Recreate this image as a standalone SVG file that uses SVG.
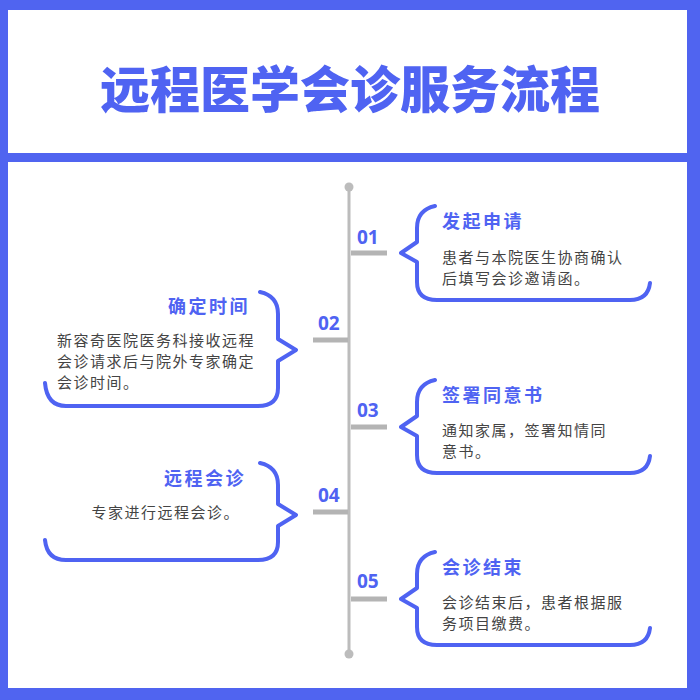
<svg xmlns="http://www.w3.org/2000/svg" width="700" height="700" viewBox="0 0 700 700">
<style>
.card{fill:none;stroke:#4f63f2;stroke-width:4;stroke-linecap:round;stroke-linejoin:round}
.num{font-family:"Noto Sans","Noto Sans CJK SC",sans-serif;font-size:19px;font-weight:bold;fill:#4f63f2}
.ttl{font-family:"Noto Sans CJK SC",sans-serif;font-size:18px;font-weight:bold;fill:#4f63f2;letter-spacing:2.5px}
.txt{font-family:"Noto Sans CJK SC",sans-serif;font-size:15px;fill:#444;letter-spacing:1.5px}
.tick{stroke:#b4b4b4;stroke-width:5}
</style>
<rect width="700" height="700" fill="#5064f0"/>
<rect x="8" y="10" width="679" height="143" fill="#fff"/>
<rect x="8" y="162" width="679" height="526" fill="#fff"/>
<text x="350" y="108" text-anchor="middle" font-family="Noto Sans CJK SC,sans-serif" font-size="50" font-weight="900" fill="#4f63f2">远程医学会诊服务流程</text>
<g id="connectors">
<line x1="349" y1="187" x2="349" y2="654" stroke="#bcbcbc" stroke-width="3"/>
<circle cx="349" cy="187" r="4.5" fill="#bcbcbc"/>
<circle cx="349" cy="654" r="4.5" fill="#bcbcbc"/>
<line class="tick" x1="351" y1="253" x2="387" y2="253"/>
<line class="tick" x1="313" y1="340" x2="348" y2="340"/>
<line class="tick" x1="351" y1="427" x2="387" y2="427"/>
<line class="tick" x1="313" y1="512" x2="348" y2="512"/>
<line class="tick" x1="351" y1="599" x2="387" y2="599"/>
</g>
<g id="step1">
<text class="num" x="357" y="244">01</text>
<path class="card" d="M435 206 Q417 210 417 228 V242 L401 253 L417 262 V282 Q417 300 437 300 H630 Q648 300 650 283"/>
<text class="ttl" x="442" y="228">发起申请</text>
<text class="txt" x="442" y="263">患者与本院医生协商确认</text>
<text class="txt" x="442" y="284">后填写会诊邀请函。</text>
</g>
<g id="step2">
<text class="num" x="318" y="330">02</text>
<path class="card" d="M260 292 Q278 296 278 314 V339 L296 350 L278 361 V388 Q278 406 258 406 H66 Q47 406 45 383"/>
<text class="ttl" x="250" y="313" text-anchor="end">确定时间</text>
<text class="txt" x="57" y="346">新容奇医院医务科接收远程</text>
<text class="txt" x="57" y="367">会诊请求后与院外专家确定</text>
<text class="txt" x="57" y="388">会诊时间。</text>
</g>
<g id="step3">
<text class="num" x="357" y="417">03</text>
<path class="card" d="M435 380 Q417 384 417 402 V416 L401 427 L417 436 V455 Q417 473 437 473 H630 Q648 473 650 456"/>
<text class="ttl" x="442" y="402">签署同意书</text>
<text class="txt" x="442" y="436">通知家属，签署知情同</text>
<text class="txt" x="442" y="457">意书。</text>
</g>
<g id="step4">
<text class="num" x="318" y="502">04</text>
<path class="card" d="M260 463 Q278 467 278 485 V504 L296 515 L278 526 V542 Q278 560 258 560 H66 Q47 560 45 540"/>
<text class="ttl" x="246" y="485" text-anchor="end">远程会诊</text>
<text class="txt" x="240" y="518" text-anchor="end">专家进行远程会诊。</text>
</g>
<g id="step5">
<text class="num" x="357" y="588">05</text>
<path class="card" d="M435 552 Q417 556 417 574 V588 L401 599 L417 608 V627 Q417 645 437 645 H630 Q648 645 650 628"/>
<text class="ttl" x="442" y="574">会诊结束</text>
<text class="txt" x="442" y="608">会诊结束后，患者根据服</text>
<text class="txt" x="442" y="629">务项目缴费。</text>
</g>
</svg>
